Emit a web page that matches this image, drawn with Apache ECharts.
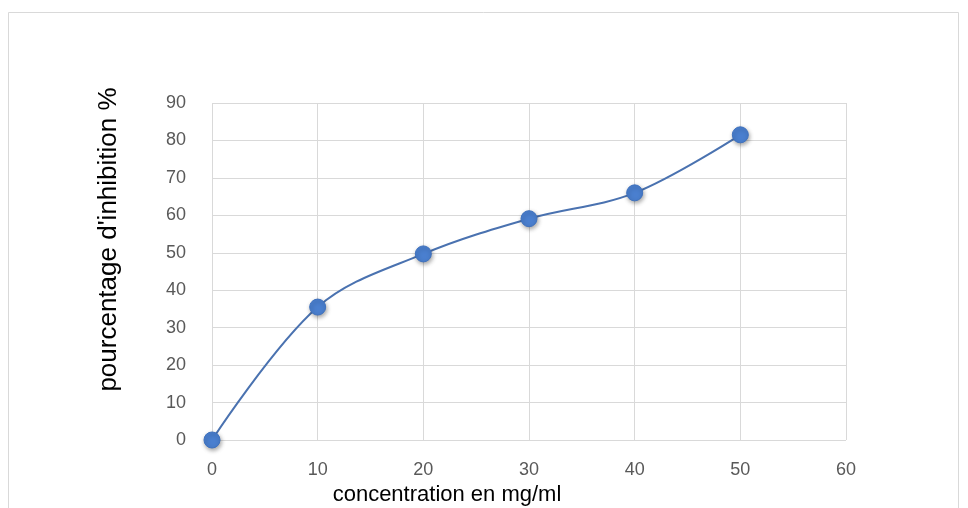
<!DOCTYPE html>
<html>
<head>
<meta charset="utf-8">
<script src="https://cdn.jsdelivr.net/npm/echarts@6/dist/echarts.min.js"></script>
<style>
  html, body { margin: 0; padding: 0; background: #fff; }
  #chart { width: 968px; height: 508px; }
</style>
</head>
<body>
<div id="chart"></div>
<script>
// Inhibition percentage measured at each concentration (mg/ml)
const concentrations = [0, 10, 20, 30, 40, 50];
const inhibition = [0, 35.5, 49.7, 59.1, 66.0, 81.5];
const xTicks = { min: 0, max: 60, interval: 10 };
const yTicks = { min: 0, max: 90, interval: 10 };

const points = concentrations.map((c, i) => [c, inhibition[i]]);

const chart = echarts.init(document.getElementById('chart'), null, { renderer: 'canvas' });
const labelFont = '"Liberation Sans", Arial, sans-serif';

chart.setOption({
  animation: false,
  backgroundColor: '#ffffff',
  graphic: [{
    type: 'rect',
    shape: { x: 8.5, y: 12.5, width: 950, height: 520 },
    style: { fill: 'none', stroke: '#d9d9d9', lineWidth: 1 },
    silent: true
  }],
  grid: { left: 212, top: 103, width: 634, height: 337, outerBoundsMode: 'none', containLabel: false },
  xAxis: {
    type: 'value',
    min: xTicks.min, max: xTicks.max, interval: xTicks.interval,
    name: 'concentration en mg/ml',
    nameLocation: 'middle',
    nameGap: 44,
    nameTextStyle: { color: '#000', fontSize: 22, fontFamily: labelFont, padding: [0, 0, 0, -164] },
    axisLine: { show: false },
    axisTick: { show: false },
    axisLabel: { color: '#595959', fontSize: 18, fontFamily: labelFont, margin: 21 },
    splitLine: { show: true, lineStyle: { color: '#d9d9d9', width: 1 } }
  },
  yAxis: {
    type: 'value',
    min: yTicks.min, max: yTicks.max, interval: yTicks.interval,
    name: "pourcentage d'inhibition %",
    nameLocation: 'middle',
    nameGap: 90,
    nameTextStyle: { color: '#000', fontSize: 26, fontFamily: labelFont, padding: [0, 0, 0, 64] },
    axisLine: { show: false },
    axisTick: { show: false },
    axisLabel: { color: '#595959', fontSize: 18, fontFamily: labelFont, margin: 26 },
    splitLine: { show: true, lineStyle: { color: '#d9d9d9', width: 1 } }
  },
  series: [{
    type: 'line',
    data: points,
    smooth: 0.35,
    symbol: 'circle',
    symbolSize: 16,
    lineStyle: { color: '#4a72b0', width: 2 },
    itemStyle: {
      color: '#4a7fcf',
      borderColor: '#3f72bf',
      borderWidth: 1,
      shadowColor: 'rgba(0,0,0,0.35)',
      shadowBlur: 4,
      shadowOffsetX: 1,
      shadowOffsetY: 2
    },
    z: 3
  }]
});
</script>
</body>
</html>
